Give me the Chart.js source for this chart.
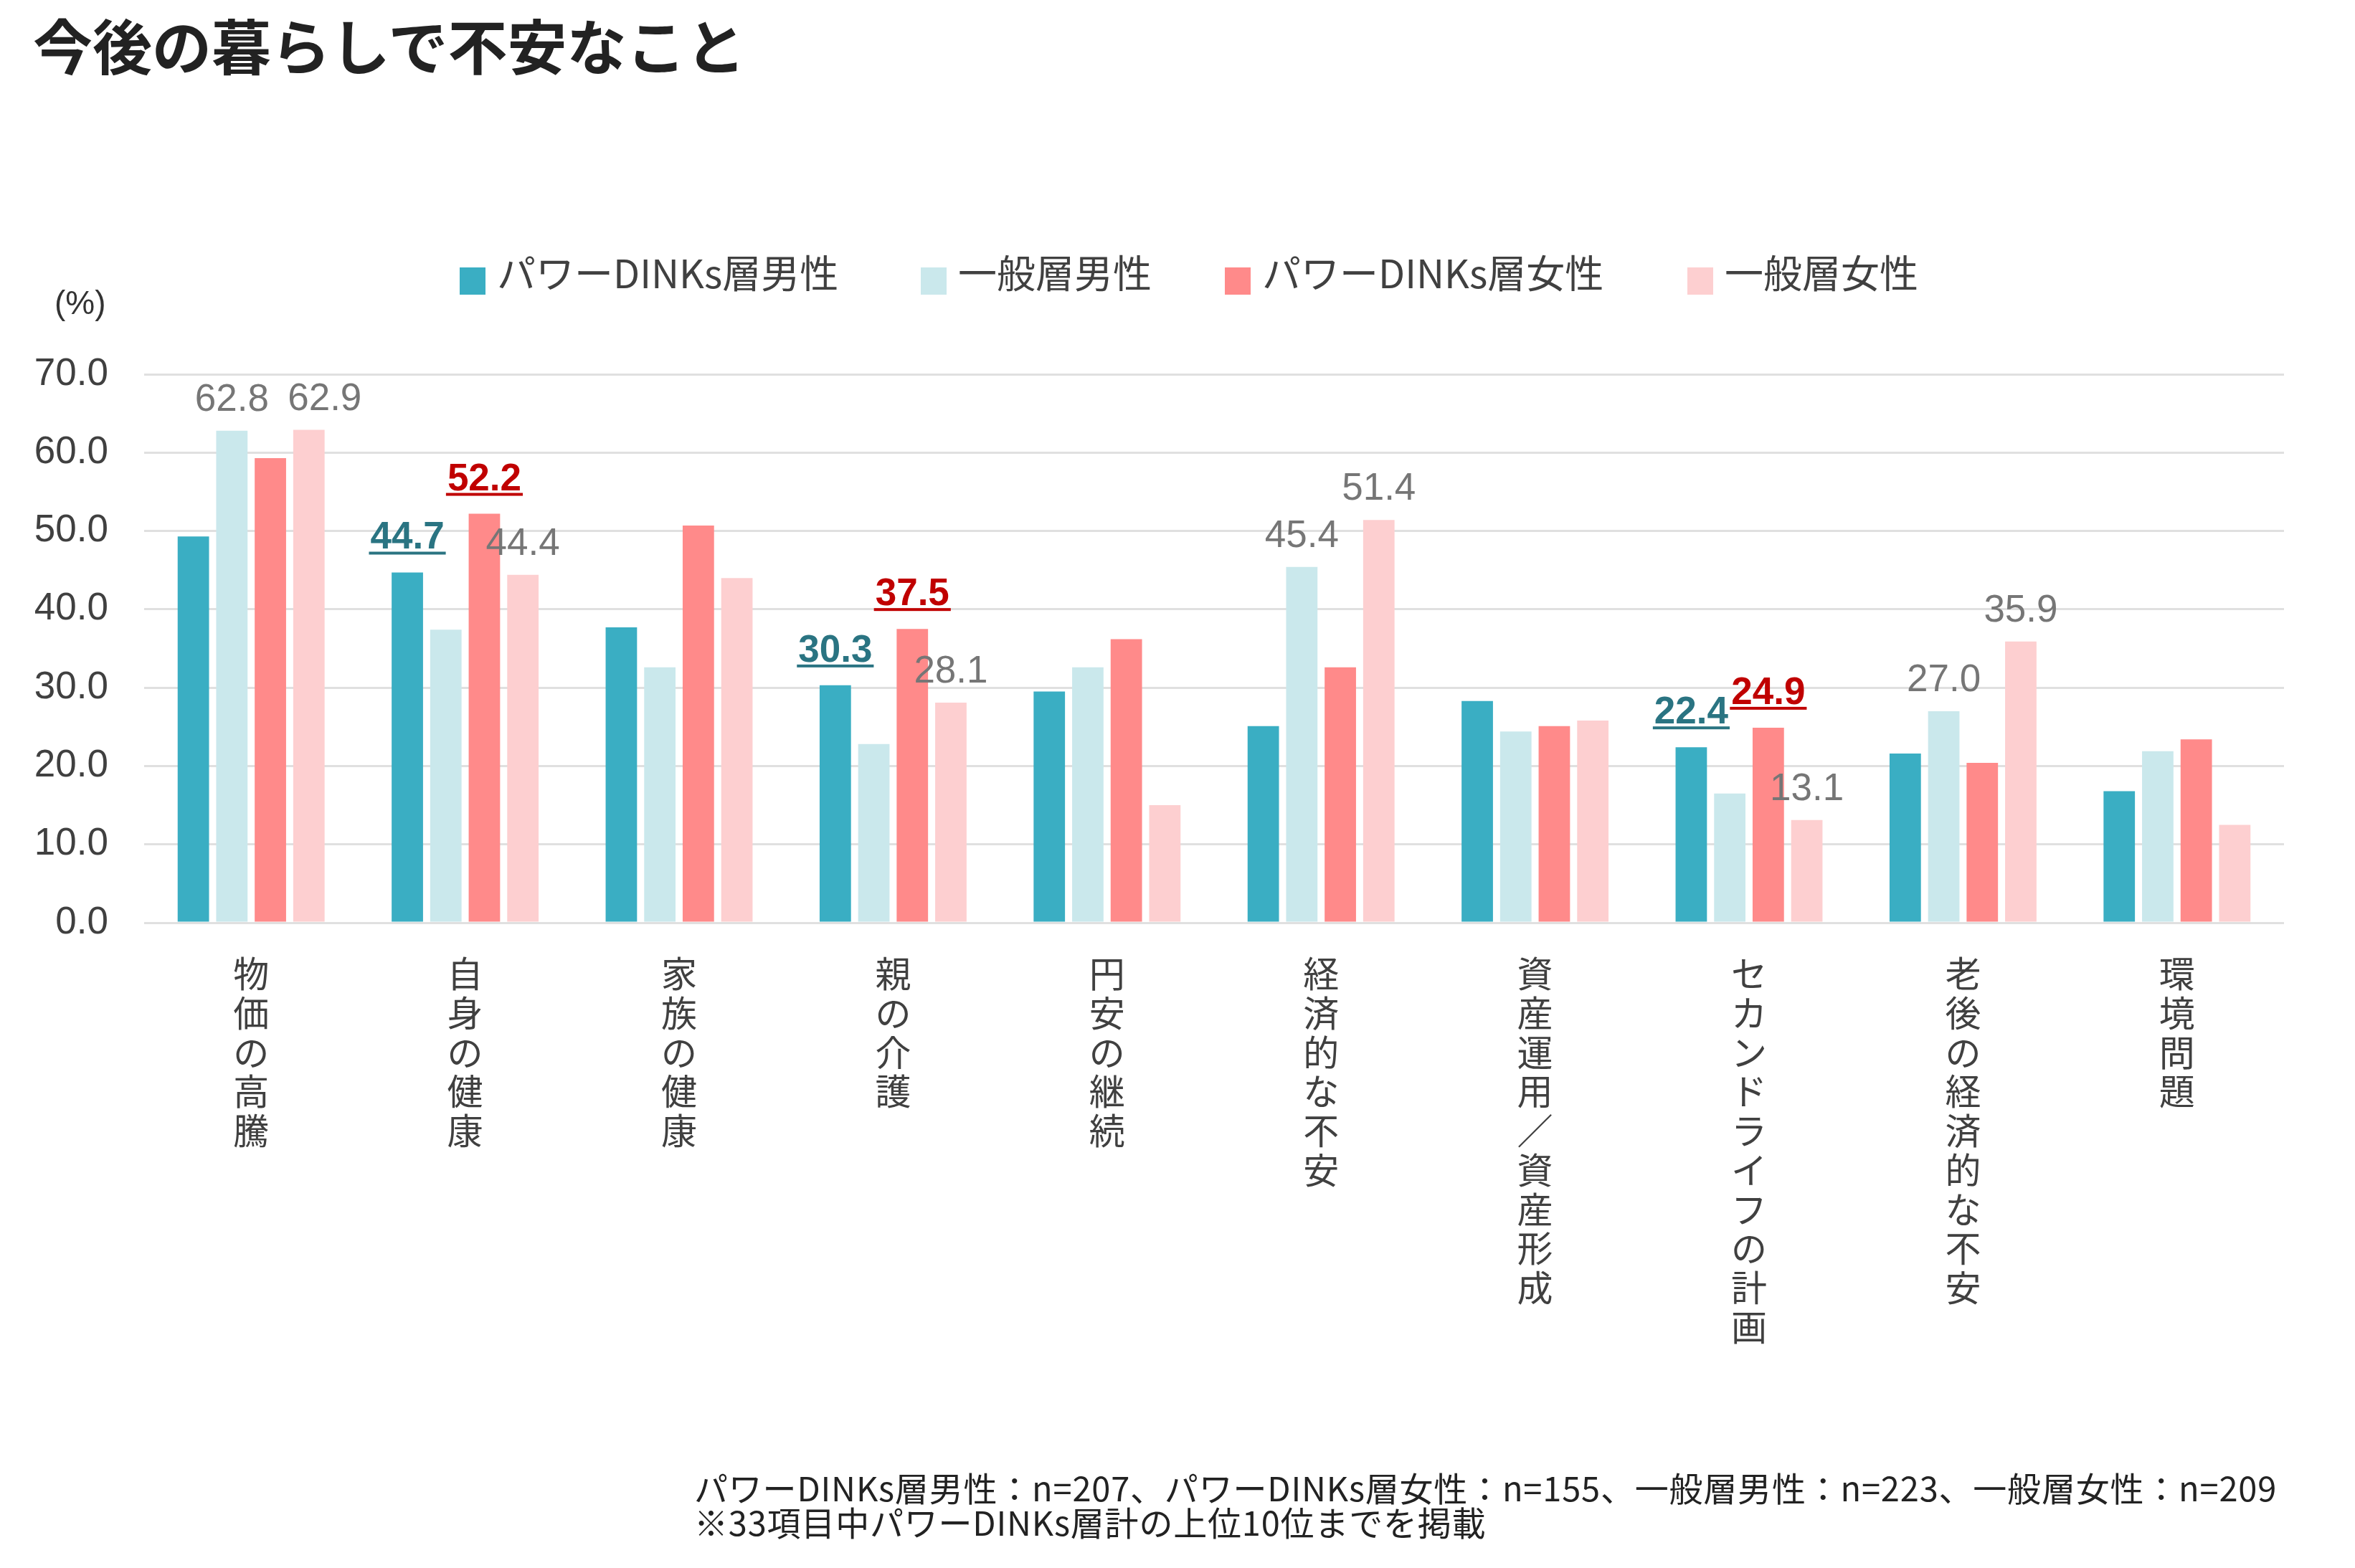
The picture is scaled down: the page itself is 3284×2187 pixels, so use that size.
<!DOCTYPE html>
<html><head><meta charset="utf-8">
<script src="https://cdn.jsdelivr.net/npm/chart.js@4.4.1/dist/chart.umd.min.js"></script>
<style>
html,body{margin:0;padding:0;background:#fff;}
#wrap{position:relative;width:3284px;height:2187px;overflow:hidden;background:#fff;}
canvas{position:absolute;left:0;top:0;}
.t{position:absolute;white-space:nowrap;}
#title{left:46px;top:20px;font:700 83px/83px "Noto Sans CJK JP";color:#222;}
#unit{left:76px;top:399px;font:46px/46px "Liberation Sans";color:#333;}
#note{left:968px;top:2050px;font:47px/48px "Noto Sans CJK JP";letter-spacing:0.8px;color:#222;}
</style></head>
<body>
<div id="wrap">
<canvas id="c" width="3284" height="2187"></canvas>
<div class="t" id="title">今後の暮らしで不安なこと</div>
<div class="t" id="unit">(%)</div>
<div class="t" id="note">パワーDINKs層男性：n=207、パワーDINKs層女性：n=155、一般層男性：n=223、一般層女性：n=209<br>※33項目中パワーDINKs層計の上位10位までを掲載</div>
</div>
<script>
const categories = ['物価の高騰','自身の健康','家族の健康','親の介護','円安の継続','経済的な不安','資産運用／資産形成','セカンドライフの計画','老後の経済的な不安','環境問題'];
const seriesNames = ['パワーDINKs層男性','一般層男性','パワーDINKs層女性','一般層女性'];
const powerMale   = [49.3, 44.7, 37.7, 30.3, 29.5, 25.1, 28.3, 22.4, 21.6, 16.8];
const generalMale = [62.8, 37.4, 32.6, 22.8, 32.6, 45.4, 24.4, 16.5, 27.0, 21.9];
const powerFemale = [59.3, 52.2, 50.7, 37.5, 36.2, 32.6, 25.1, 24.9, 20.4, 23.4];
const generalFemale = [62.9, 44.4, 44.0, 28.1, 15.0, 51.4, 25.8, 13.1, 35.9, 12.5];
const yTicks = [0,10,20,30,40,50,60,70];
// [seriesIndex, categoryIndex, kind]
const shownLabels = [
  [1,0,'plain'],[3,0,'plain'],
  [0,1,'blue'],[2,1,'red'],[3,1,'plain'],
  [0,3,'blue'],[2,3,'red'],[3,3,'plain'],
  [1,5,'plain'],[3,5,'plain'],
  [0,7,'blue'],[2,7,'red'],[3,7,'plain'],
  [1,8,'plain'],[3,8,'plain']
];
const colors = ['#3AAEC3','#CAE8EC','#FF8A8A','#FDCFD0'];

const valueLabels = {
  id:'valueLabels',
  afterDatasetsDraw(chart){
    const ctx = chart.ctx;
    ctx.save();
    ctx.textAlign='center'; ctx.textBaseline='alphabetic';
    shownLabels.forEach(([ds,i,kind])=>{
      const bar = chart.getDatasetMeta(ds).data[i];
      const v = chart.data.datasets[ds].data[i];
      const txt = v.toFixed(1);
      const bold = kind !== 'plain';
      ctx.font = (bold?'bold ':'') + '53px "Liberation Sans", Arial, sans-serif';
      ctx.fillStyle = kind==='plain' ? '#767676' : (kind==='blue' ? '#2A7482' : '#C00000');
      const nudge = (ds===3 && i===0) ? 22 : 0;
      const x = bar.x + nudge;
      const y = bar.y - (bold ? 33 : 28);
      ctx.fillText(txt, x, y);
      if (bold){
        const w = ctx.measureText(txt).width;
        ctx.fillRect(x - w/2 - 2, y + 4, w + 4, 4);
      }
    });
    ctx.restore();
  }
};

const legendX = [641, 1284, 1708, 2353];
const customLegend = {
  id:'customLegend',
  afterDraw(chart){
    const ctx = chart.ctx;
    ctx.save();
    ctx.font = '54px "Noto Sans CJK JP"';
    ctx.textBaseline='middle'; ctx.textAlign='left';
    const boxW=36, boxH=38, textOff=52, cy=381;
    chart.data.datasets.forEach((d,k)=>{
      const x = legendX[k];
      ctx.fillStyle = d.backgroundColor;
      ctx.fillRect(x, cy-8, boxW, boxH);
      ctx.fillStyle = '#404040';
      ctx.fillText(d.label, x+textOff, cy);
    });
    ctx.restore();
  }
};

const seriesData = [powerMale, generalMale, powerFemale, generalFemale];
new Chart(document.getElementById('c'), {
  type:'bar',
  data:{
    labels: categories.map(c=>Array.from(c)),
    datasets: seriesData.map((d,k)=>({label:seriesNames[k], data:d, backgroundColor:colors[k], borderWidth:0,
      categoryPercentage:0.72, barPercentage:0.815}))
  },
  options:{
    responsive:false, animation:false, devicePixelRatio:1,
    layout:{padding:{top:522,left:0,right:99,bottom:200}},
    plugins:{legend:{display:false},tooltip:{enabled:false},title:{display:false}},
    scales:{
      x:{
        grid:{display:false,drawTicks:false}, border:{display:false},
        ticks:{autoSkip:false,maxRotation:0,minRotation:0,padding:44,color:'#404040',
          font:{family:'"Noto Sans CJK JP"',size:50,lineHeight:1.094}},
        afterFit(s){s.height=700;}
      },
      y:{
        min:0,max:70,
        grid:{color:'#E0E0E0',lineWidth:3,drawTicks:false}, border:{display:false},
        afterBuildTicks(s){s.ticks = yTicks.map(v=>({value:v}));},
        ticks:{padding:50,color:'#404040',font:{family:'"Liberation Sans"',size:53},callback:v=>Number(v).toFixed(1)},
        afterFit(s){s.width=201;}
      }
    }
  },
  plugins:[valueLabels, customLegend]
});
</script>
</body></html>
